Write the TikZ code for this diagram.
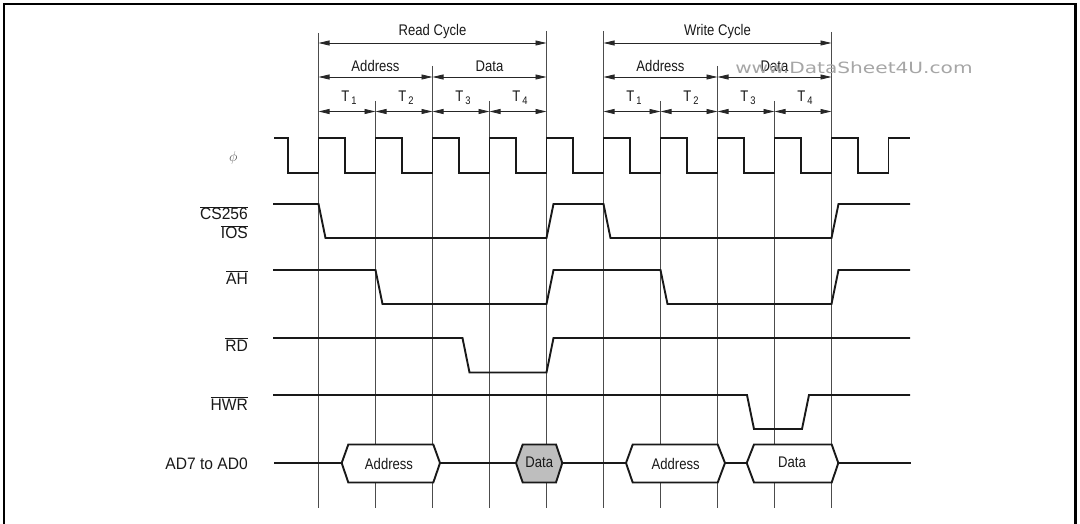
\documentclass[tikz,border=0pt]{standalone}
\usepackage{fontspec}
\setmainfont{Liberation Sans}
\newfontfamily\markfont{DejaVu Sans}
\usetikzlibrary{arrows.meta}
\definecolor{busGray}{HTML}{BEBEBE}
\newcommand{\tidx}[1]{\raisebox{-2.6pt}{\fontsize{11}{11}\selectfont #1}}

\tikzset{
  sig/.style={line width=1.9pt, black!90},
  bus/.style={sig, fill=white},
  gridline/.style={line width=0.9pt, black!70},
  dim/.style={line width=0.8pt, black!85, {Triangle[length=11pt,width=5pt]}-{Triangle[length=11pt,width=5pt]}},
  toplabel/.style={font=\fontsize{15.4}{17}\selectfont, xscale=0.85, anchor=base, inner sep=0pt, black!90},
  sidelabel/.style={font=\fontsize{16.6}{18}\selectfont, xscale=0.94, anchor=base east, inner sep=0pt, black!90}
}

\begin{document}
\begin{tikzpicture}[x=1pt, y=-1pt]
  \useasboundingbox (0,0) rectangle (1080,524);
  \draw[line width=2.6pt] (4,530) -- (4,4) -- (1075.5,4) -- (1075.5,530);

  \foreach \i/\ytop in {0/33,1/101,2/66,3/101,4/31,5/31,6/101,7/66,8/101,9/32}
    \draw[gridline] ({318.5+57*\i},\ytop) -- ({318.5+57*\i},508);

  \foreach \i in {0,...,9} {
    \coordinate (c\i) at ({318.5+57*\i},43);
    \coordinate (a\i) at ({318.5+57*\i},77);
    \coordinate (t\i) at ({318.5+57*\i},111.5);
  }
  \draw[dim] (c0) -- (c4);
  \draw[dim] (c5) -- (c9);
  \draw[dim] (a0) -- (a2);
  \draw[dim] (a2) -- (a4);
  \draw[dim] (a5) -- (a7);
  \draw[dim] (a7) -- (a9);
  \foreach \i/\j in {0/1,1/2,2/3,3/4,5/6,6/7,7/8,8/9}
    \draw[dim] (t\i) -- (t\j);

  \node[toplabel] (readcycle) at (432.5,36) {Read Cycle};
  \node[toplabel] (writecycle) at (717.5,36) {Write Cycle};
  \node[toplabel] (readaddr) at (375.5,71.5) {Address};
  \node[toplabel] (readdata) at (489.5,71.5) {Data};
  \node[toplabel] (writeaddr) at (660.5,71.5) {Address};
  \node[toplabel] (writedata) at (774.5,71.5) {Data};
  \foreach \i/\n in {0/1,1/2,2/3,3/4,5/1,6/2,7/3,8/4}
    \node[toplabel] (tlabel\i) at ({349+57*\i},102) {T\,\tidx{\n}};
  \node[anchor=base west, inner sep=0pt, font=\markfont\fontsize{15.5}{17}\selectfont, xscale=1.3, black!35] (watermark) at (735,74) {www.DataSheet4U.com};

  \node[font=\fontsize{14}{14}\selectfont, black!65] (phi) at (233.3,158) {$\phi$};
  \node[sidelabel] (cs) at (248,220) {$\overline{\mbox{CS256}}$};
  \node[sidelabel] (ios) at (248,239) {$\overline{\mbox{IOS}}$};
  \node[sidelabel] (ah) at (248,284) {$\overline{\mbox{AH}}$};
  \node[sidelabel] (rd) at (248,351.5) {$\overline{\mbox{RD}}$};
  \node[sidelabel] (hwr) at (248,410) {$\overline{\mbox{HWR}}$};
  \node[sidelabel] (ad) at (248,469) {AD7 to AD0};

  \draw[sig] (274,138) -- (288,138) -- (288,173)
    \foreach \k in {0,...,9} { -- ({318.5+57*\k},173) -- ({318.5+57*\k},138) -- ({345+57*\k},138) -- ({345+57*\k},173) }
    -- (888.5,173) -- (888.5,138) -- (910,138);

  \draw[sig] (273,204) -- (318.5,204) -- (325.5,238) -- (546.5,238) -- (553.5,204) -- (603.5,204) -- (610.5,238) -- (831.5,238) -- (838.5,204) -- (910,204);
  \draw[sig] (273,270) -- (375.5,270) -- (382.5,304) -- (546.5,304) -- (553.5,270) -- (660.5,270) -- (667.5,304) -- (831.5,304) -- (838.5,270) -- (910,270);
  \draw[sig] (273,338) -- (462.5,338) -- (469.5,372.5) -- (546.5,372.5) -- (553.5,338) -- (910,338);
  \draw[sig] (273,395) -- (747,395) -- (754,429) -- (802,429) -- (809,395) -- (910,395);

  \draw[sig] (274,463) -- (341.7,463) (440,463) -- (516,463) (562.3,463) -- (626,463) (725,463) -- (746.7,463) (838.3,463) -- (911,463);
  \draw[bus] (341.7,463) -- (348.3,444.5) -- (433.3,444.5) -- (440,463) -- (433.3,482.5) -- (348.3,482.5) -- cycle;
  \draw[bus, fill=busGray] (516,463) -- (522.7,444.5) -- (556,444.5) -- (562.3,463) -- (556,482.5) -- (522.7,482.5) -- cycle;
  \draw[bus] (626,463) -- (632.7,444.5) -- (717.7,444.5) -- (725,463) -- (717.7,482.5) -- (632.7,482.5) -- cycle;
  \draw[bus] (746.7,463) -- (754,444.5) -- (831.7,444.5) -- (838.3,463) -- (831.7,482.5) -- (754,482.5) -- cycle;
  \node[toplabel] (busaddr1) at (389,469) {Address};
  \node[toplabel] (busdata1) at (539.3,467.5) {Data};
  \node[toplabel] (busaddr2) at (675.7,469) {Address};
  \node[toplabel] (busdata2) at (792,467.5) {Data};
\end{tikzpicture}
\end{document}
